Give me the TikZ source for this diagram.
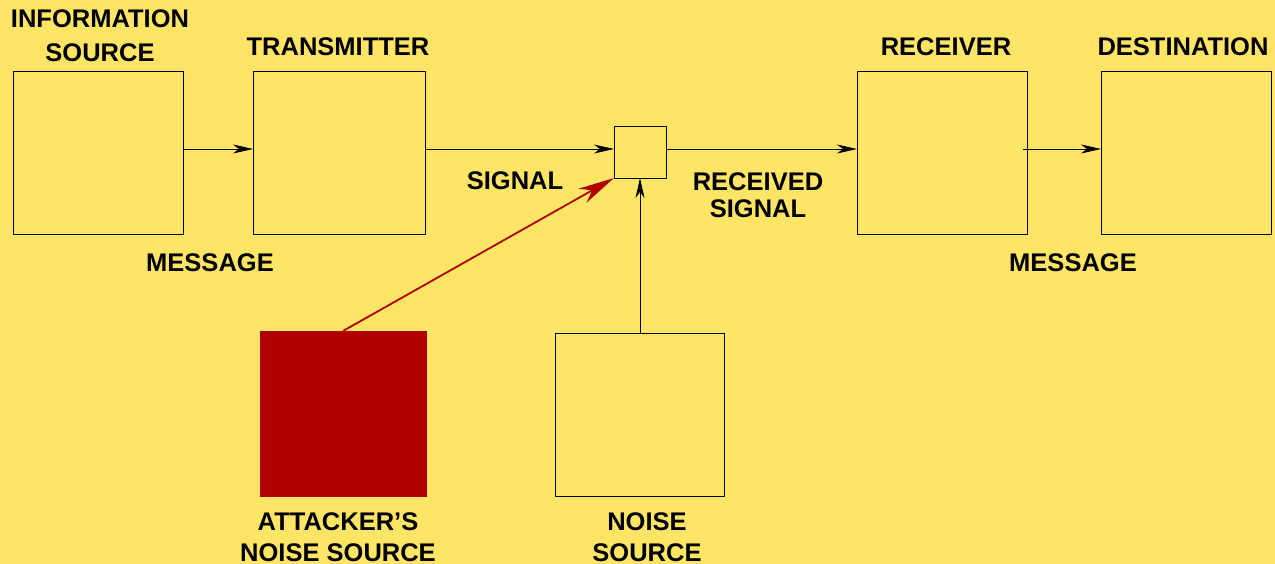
\documentclass[tikz,border=0pt]{standalone}
\usepackage{fontspec}
\setmainfont{Liberation Sans}
\usetikzlibrary{arrows.meta,calc}
\definecolor{bgyellow}{RGB}{255,229,102}
\definecolor{attred}{RGB}{176,0,0}
\begin{document}
\begin{tikzpicture}[x=1pt,y=-1pt,
  blk/.style={draw=black,line width=0.8pt,minimum width=170pt,minimum height=163pt,inner sep=0pt,outer sep=0pt},
  lbl/.style={font=\bfseries\fontsize{25.5}{28}\selectfont,align=center,inner sep=0pt},
  conn/.style={line width=0.8pt,-{Stealth[length=20pt,width=9pt,inset=6pt]}},
  redconn/.style={draw=attred,line width=1.8pt,-{Stealth[length=36pt,width=16pt,inset=11pt]}}]
\fill[bgyellow] (0,0) rectangle (1275,564);
\useasboundingbox (0,0) rectangle (1275,564);
% boxes
\node[blk] (info) at (98,152.5) {};
\node[blk,minimum width=172pt] (trans) at (339,152.5) {};
\node[draw=black,line width=0.8pt,minimum width=52pt,minimum height=52pt,inner sep=0pt,outer sep=0pt] (mix) at (640,152) {};
\node[blk] (recv) at (942,152.5) {};
\node[blk] (dest) at (1186,152.5) {};
\node[blk,draw=none,fill=attred,minimum width=167pt,minimum height=166pt] (att) at (343.5,414) {};
\node[blk,minimum width=169pt] (noise) at (639.5,414.5) {};
% labels
\node[lbl,font=\bfseries\fontsize{25.5}{34}\selectfont] (linfo) at (100,36) {INFORMATION\\SOURCE};
\node[lbl] (ltrans) at (338,47) {TRANSMITTER};
\node[lbl] (lsig) at (515,181) {SIGNAL};
\node[lbl] (lmsg1) at (210,263) {MESSAGE};
\node[lbl,font=\bfseries\fontsize{25.5}{27}\selectfont] (lrsig) at (758,195) {RECEIVED\\SIGNAL};
\node[lbl] (lrecv) at (946,47) {RECEIVER};
\node[lbl] (ldest) at (1183,47) {DESTINATION};
\node[lbl] (lmsg2) at (1073,263) {MESSAGE};
\node[lbl,font=\bfseries\fontsize{25.5}{31}\selectfont] (latt) at (338,537) {ATTACKER'S\\NOISE SOURCE};
\node[lbl,font=\bfseries\fontsize{25.5}{31}\selectfont] (lnoise) at (647,537) {NOISE\\SOURCE};
% connectors (signal line sits 3px above the small box centre)
\coordinate (mixIn) at ($(mix.west)+(0,-3)$);
\coordinate (mixOut) at ($(mix.east)+(0,-3)$);
\draw[conn] (info.east |- mixIn) -- (trans.west |- mixIn);
\draw[conn] (trans.east |- mixIn) -- (mixIn);
\draw[conn] (mixOut) -- (recv.west |- mixOut);
\draw[conn] ($(recv.east |- mixOut)+(-4,0)$) -- (dest.west |- mixOut);
\draw[conn] (noise.north -| mix.south) -- (mix.south);
\coordinate (attTop) at ($(att.north)+(-0.5,0)$);
\draw[redconn] (attTop) -- (mix.south west);
\end{tikzpicture}
\end{document}
